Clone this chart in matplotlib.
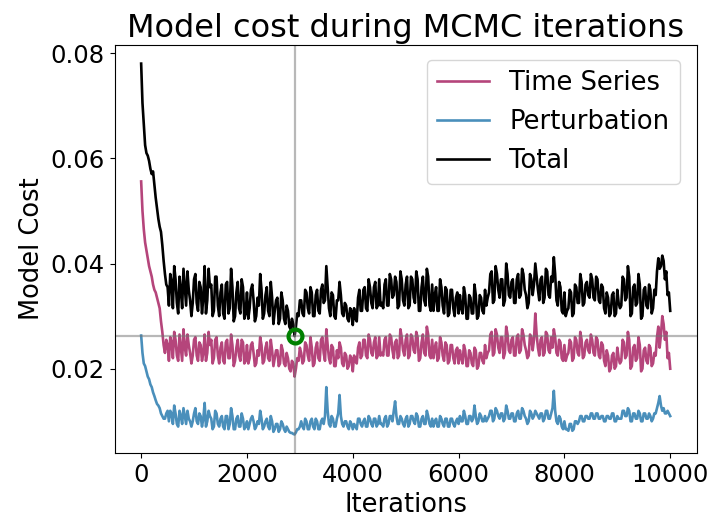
import numpy as np
from matplotlib import pyplot as plt

# iterations sampled every 25 steps (0 .. 10000)
iterations = list(range(0, 10001, 25))

# model cost values, in units of 1e-3
time_series = [
    55.6, 50.0, 46.5, 44.0, 42.5, 41.0, 39.5, 38.5, 37.5, 36.0, 35.0,
    34.5, 33.5, 32.5, 31.5, 29.0, 27.0, 24.5, 23.0, 25.5, 24.5,
    21.5, 26.0, 25.0, 22.0, 27.0, 25.5, 22.5, 21.5, 26.5, 24.0,
    21.5, 27.5, 24.0, 22.5, 26.5, 24.5, 23.0, 21.0, 22.5, 25.5,
    26.0, 22.5, 21.5, 25.0, 24.5, 21.5, 23.0, 26.5, 21.5, 23.0,
    27.0, 24.5, 25.5, 21.0, 22.0, 25.5, 26.0, 22.5, 21.0, 24.0,
    25.0, 21.5, 21.0, 25.0, 25.5, 22.0, 22.0, 26.5, 24.5, 20.5,
    21.5, 24.0, 25.5, 22.5, 21.5, 25.5, 25.0, 21.0, 21.5, 24.5,
    21.0, 22.0, 24.5, 25.0, 23.0, 20.5, 21.0, 23.5, 22.5, 26.0,
    24.5, 21.0, 21.5, 24.0, 25.0, 22.0, 21.5, 25.5, 23.5, 20.5,
    22.0, 23.5, 23.5, 20.5, 21.0, 24.5, 23.5, 21.0, 20.5, 23.0,
    22.0, 20.0, 19.5, 21.5, 21.0, 18.5, 20.0, 22.0, 21.5, 24.0,
    23.0, 21.0, 21.5, 25.0, 24.5, 22.5, 21.5, 26.0, 24.0, 20.5,
    21.0, 24.0, 25.0, 22.0, 21.5, 25.5, 26.0, 23.0, 21.5, 27.5,
    24.5, 22.0, 21.0, 24.5, 24.0, 20.5, 20.5, 23.5, 22.0, 25.0,
    24.0, 21.0, 20.5, 23.0, 22.5, 20.0, 20.5, 22.5, 22.0, 19.5,
    22.5, 21.5, 21.0, 24.0, 25.0, 22.0, 22.5, 25.5, 25.5, 22.5,
    22.0, 26.5, 25.5, 23.0, 22.5, 25.0, 26.0, 22.0, 22.5, 26.0,
    22.5, 23.0, 22.5, 25.5, 26.0, 22.5, 22.5, 26.5, 26.0, 23.5,
    22.0, 25.0, 25.5, 22.0, 22.5, 27.5, 26.0, 23.5, 22.5, 25.5,
    26.5, 22.0, 22.5, 26.5, 26.0, 23.5, 23.0, 27.0, 26.0, 21.5,
    22.0, 25.0, 26.5, 23.0, 22.5, 28.0, 26.5, 22.5, 22.0, 25.5,
    22.0, 24.0, 25.0, 21.5, 22.0, 26.0, 25.0, 22.5, 21.5, 25.0,
    24.5, 21.0, 21.5, 24.5, 24.5, 22.0, 21.0, 23.5, 24.0, 21.0,
    23.5, 22.0, 21.0, 24.5, 23.5, 20.5, 20.5, 23.5, 23.0, 21.0,
    20.5, 24.0, 23.5, 20.0, 20.5, 23.0, 23.0, 21.5, 21.0, 24.5,
    22.0, 23.0, 23.5, 26.5, 27.0, 22.5, 23.0, 27.5, 26.5, 24.0,
    23.0, 26.0, 26.0, 22.0, 23.0, 28.0, 26.5, 23.5, 23.0, 25.5,
    26.0, 22.5, 22.5, 26.0, 26.5, 23.0, 23.5, 27.5, 26.5, 24.5,
    23.5, 22.0, 22.5, 26.5, 26.0, 23.5, 25.5, 30.5, 26.5, 24.0,
    22.5, 25.5, 26.0, 22.5, 23.0, 27.0, 26.5, 23.5, 23.0, 26.0,
    24.0, 27.5, 26.0, 23.0, 22.5, 25.5, 25.0, 22.0, 21.5, 24.5,
    21.5, 22.5, 23.0, 25.5, 25.0, 21.5, 22.0, 26.0, 25.5, 23.0,
    22.5, 27.0, 25.5, 22.0, 22.5, 25.0, 25.5, 23.5, 23.0, 26.5,
    25.5, 23.0, 22.5, 26.0, 25.5, 22.5, 22.0, 25.0, 24.5, 21.5,
    20.5, 23.5, 22.5, 19.5, 20.0, 22.5, 23.0, 20.0, 20.5, 24.0,
    22.0, 21.0, 21.5, 25.5, 25.0, 22.0, 22.5, 27.0, 25.5, 20.0,
    20.5, 24.0, 24.5, 21.5, 22.0, 26.0, 24.5, 19.5, 20.0, 23.5,
    24.0, 21.5, 21.0, 24.5, 24.0, 20.5, 21.0, 23.0, 22.5, 26.0,
    28.0, 24.0, 26.5, 30.0, 28.5, 25.5, 27.0, 22.0, 23.0, 20.0,
]

perturbation = [
    26.3, 23.0, 21.0, 20.5, 19.5, 18.5, 18.0, 17.0, 16.5, 15.5, 14.8,
    14.0, 13.3, 13.0, 12.5, 11.5, 11.0, 10.5, 10.5, 11.5, 12.0,
    10.0, 12.0, 11.5, 9.5, 13.0, 11.5, 9.5, 9.0, 12.0, 11.0,
    9.5, 12.5, 11.0, 9.5, 12.0, 10.5, 10.0, 9.0, 10.0, 11.5,
    12.5, 10.0, 9.5, 11.5, 11.0, 9.0, 10.5, 13.5, 9.0, 10.0,
    12.0, 11.0, 10.5, 8.5, 9.0, 12.0, 11.5, 9.5, 9.0, 10.5,
    11.0, 9.0, 8.5, 11.0, 11.0, 8.5, 9.5, 12.5, 11.0, 8.5,
    8.5, 10.5, 11.0, 9.0, 9.0, 11.5, 10.5, 8.5, 9.0, 10.0,
    8.5, 9.5, 10.5, 11.0, 10.0, 8.5, 9.0, 10.0, 9.5, 12.0,
    10.5, 8.5, 9.0, 10.0, 10.5, 9.0, 8.5, 11.0, 10.0, 8.0,
    8.5, 9.5, 9.5, 8.0, 8.5, 10.0, 9.5, 8.5, 8.0, 9.0,
    8.5, 8.0, 7.8, 7.8, 7.6, 7.5, 7.9, 8.5, 8.5, 9.0,
    10.0, 9.0, 8.5, 10.5, 10.0, 8.5, 8.5, 10.0, 10.5, 9.0,
    8.5, 10.5, 10.0, 8.5, 8.5, 10.0, 10.5, 9.5, 11.0, 16.5,
    12.0, 9.5, 9.0, 11.0, 10.5, 9.0, 9.0, 10.5, 11.5, 15.0,
    11.0, 9.5, 9.0, 10.0, 10.0, 9.0, 8.5, 10.0, 9.5, 8.5,
    9.5, 9.0, 8.5, 10.5, 10.5, 9.5, 9.0, 10.0, 10.5, 9.0,
    9.0, 11.0, 10.5, 9.5, 9.0, 10.5, 10.5, 9.0, 9.5, 11.0,
    9.5, 9.5, 9.0, 10.5, 11.0, 9.0, 9.5, 11.0, 11.0, 10.0,
    12.0, 13.8, 11.0, 9.5, 9.5, 11.0, 10.5, 9.5, 9.0, 10.5,
    11.0, 9.0, 9.5, 11.0, 11.0, 10.0, 9.5, 11.5, 11.0, 9.0,
    9.0, 10.5, 11.0, 9.5, 9.5, 12.0, 11.0, 9.5, 9.0, 10.5,
    9.0, 10.0, 10.5, 9.0, 9.0, 11.0, 10.5, 9.5, 9.0, 10.5,
    10.5, 9.0, 9.0, 10.5, 10.5, 9.5, 9.0, 10.0, 10.5, 9.5,
    11.0, 10.0, 10.0, 12.0, 11.0, 9.5, 9.5, 11.0, 11.0, 10.0,
    10.5, 13.0, 11.0, 9.5, 10.0, 11.5, 11.0, 10.0, 10.0, 11.0,
    10.0, 10.5, 11.0, 12.0, 12.0, 10.0, 10.5, 12.5, 12.0, 11.0,
    10.5, 11.5, 11.5, 10.0, 10.5, 13.0, 12.0, 10.5, 10.5, 11.5,
    11.5, 10.0, 10.0, 11.5, 12.0, 10.5, 10.5, 12.5, 12.0, 11.0,
    10.5, 9.5, 10.0, 12.0, 11.5, 10.5, 11.0, 12.0, 11.5, 11.0,
    10.5, 11.5, 11.5, 10.0, 10.5, 12.0, 12.0, 10.5, 10.5, 11.5,
    12.5, 15.8, 12.0, 10.0, 9.5, 11.0, 10.5, 9.0, 8.5, 10.0,
    8.5, 8.5, 8.2, 9.5, 9.5, 8.2, 8.5, 10.0, 10.0, 9.5,
    10.0, 11.0, 11.0, 10.0, 10.0, 11.0, 11.0, 10.5, 10.5, 11.5,
    11.5, 10.5, 10.5, 11.5, 11.5, 10.5, 10.5, 11.0, 11.0, 10.0,
    10.0, 11.0, 11.0, 10.5, 10.5, 11.5, 11.5, 10.0, 10.0, 11.0,
    10.5, 10.5, 10.5, 12.0, 12.0, 11.0, 11.0, 12.5, 12.0, 10.0,
    10.0, 11.5, 11.5, 10.5, 10.5, 12.0, 11.5, 10.0, 10.0, 11.5,
    11.5, 10.5, 10.5, 11.5, 11.0, 10.0, 10.5, 11.5, 11.5, 12.5,
    13.5, 14.8, 13.0, 12.0, 12.5, 11.5, 11.5, 12.0, 11.5, 11.0,
]

total = [
    78.0, 70.5, 66.5, 62.5, 61.0, 60.5, 59.5, 58.0, 57.0, 57.5, 55.0,
    52.5, 50.5, 48.5, 47.0, 46.0, 43.5, 40.5, 38.0, 36.0, 35.5,
    32.0, 38.0, 36.5, 31.5, 39.5, 37.0, 32.5, 30.5, 37.5, 35.0,
    31.5, 39.0, 35.5, 32.0, 38.5, 35.0, 33.0, 30.0, 32.5, 37.0,
    38.0, 32.5, 31.0, 36.5, 35.5, 30.5, 33.5, 39.5, 30.5, 33.0,
    39.0, 35.5, 36.0, 30.0, 31.0, 37.5, 37.5, 32.0, 30.0, 34.5,
    36.0, 30.5, 29.5, 36.0, 36.5, 30.5, 31.5, 39.0, 35.5, 29.0,
    30.0, 34.5, 36.5, 31.5, 30.5, 37.0, 35.5, 29.5, 30.5, 34.5,
    29.5, 31.5, 35.0, 36.0, 33.0, 29.0, 30.0, 33.5, 32.0, 38.0,
    35.0, 29.5, 30.5, 34.0, 35.5, 31.0, 30.0, 36.5, 33.5, 28.5,
    31.0, 33.0, 33.5, 28.5, 29.5, 34.5, 33.0, 29.5, 28.5, 32.0,
    31.0, 28.0, 27.5, 29.5, 28.5, 26.2, 28.0, 30.5, 30.0, 33.0,
    33.0, 30.5, 30.0, 35.0, 34.5, 31.5, 30.5, 35.5, 34.5, 30.0,
    30.0, 34.0, 35.0, 31.0, 30.5, 35.0, 36.0, 32.5, 33.0, 39.5,
    35.5, 31.5, 30.0, 34.5, 34.0, 30.0, 29.5, 33.0, 33.0, 36.5,
    34.0, 30.5, 30.0, 32.5, 32.0, 29.5, 29.0, 31.5, 31.0, 28.3,
    31.5, 29.5, 29.0, 33.5, 35.0, 31.0, 31.0, 35.0, 35.5, 31.5,
    31.0, 37.0, 35.5, 32.5, 31.5, 35.5, 36.5, 31.5, 32.0, 37.0,
    32.0, 32.5, 31.5, 36.0, 37.0, 32.0, 32.0, 38.0, 37.0, 33.5,
    34.0, 37.5, 36.5, 31.5, 32.0, 38.5, 37.0, 33.0, 32.0, 36.0,
    37.5, 31.5, 32.0, 37.5, 37.0, 33.5, 32.5, 38.5, 37.0, 31.0,
    31.0, 35.5, 37.5, 33.0, 32.0, 39.0, 37.5, 32.0, 31.0, 36.0,
    31.0, 34.0, 35.5, 31.0, 31.0, 37.0, 35.5, 32.0, 30.5, 35.5,
    35.0, 30.0, 30.5, 35.0, 35.0, 31.5, 30.0, 33.5, 34.5, 30.5,
    34.0, 31.5, 30.5, 35.5, 34.0, 29.5, 29.5, 34.0, 33.5, 30.5,
    30.5, 36.0, 34.0, 29.5, 30.0, 34.0, 33.5, 31.0, 30.5, 35.0,
    32.0, 33.5, 34.5, 38.0, 38.5, 32.5, 33.0, 39.5, 38.0, 35.0,
    33.5, 37.0, 37.0, 32.0, 33.0, 40.0, 38.0, 34.0, 33.5, 36.5,
    37.0, 32.5, 32.5, 37.0, 38.0, 33.5, 34.0, 39.0, 38.0, 35.0,
    34.0, 31.5, 32.5, 38.0, 37.0, 34.0, 36.0, 40.0, 37.5, 35.0,
    33.0, 37.0, 37.5, 32.5, 33.5, 39.0, 38.5, 34.0, 33.5, 37.5,
    36.5, 41.2, 38.0, 33.0, 32.0, 36.5, 35.5, 31.0, 30.5, 34.5,
    30.0, 31.0, 31.5, 35.0, 34.5, 30.0, 30.5, 36.0, 35.5, 32.5,
    32.5, 38.0, 36.5, 32.0, 32.5, 36.0, 36.5, 34.0, 33.5, 38.0,
    37.0, 33.5, 33.0, 37.5, 37.0, 33.0, 32.5, 36.0, 35.5, 31.5,
    30.5, 34.5, 33.5, 30.0, 30.5, 34.0, 34.5, 30.0, 30.5, 35.0,
    32.5, 31.5, 32.0, 37.5, 37.0, 33.0, 33.5, 39.5, 37.5, 30.0,
    30.5, 35.5, 36.0, 32.0, 32.5, 38.0, 36.0, 29.5, 30.0, 35.0,
    35.5, 32.0, 31.5, 36.0, 35.0, 30.5, 31.5, 35.0, 34.0, 38.5,
    41.0, 39.0, 39.5, 41.5, 40.5, 37.0, 38.5, 34.0, 34.5, 31.0,
]

# best sample marked on the chart
best_iter = 2900
best_cost = 26.2


def main():
    ts = np.array(time_series) / 1000
    pert = np.array(perturbation) / 1000
    tot = np.array(total) / 1000

    fig = plt.figure(figsize=(7.08, 5.21), dpi=100)
    ax = fig.add_axes([0.162, 0.1305, 0.822, 0.783])

    ax.plot(iterations, ts, color="#b5457b", lw=1.9, label="Time Series")
    ax.plot(iterations, pert, color="#4a8fbb", lw=1.9, label="Perturbation")
    ax.plot(iterations, tot, color="black", lw=1.9, label="Total")

    ax.axvline(best_iter, color="0.45", alpha=0.5, lw=1.6)
    ax.axhline(best_cost / 1000, color="0.45", alpha=0.5, lw=1.6)
    ax.plot(best_iter, best_cost / 1000, "o", mfc="none", mec="green",
            mew=3, ms=10)

    ax.set_title("Model cost during MCMC iterations", fontsize=23)
    ax.set_xlabel("Iterations", fontsize=18.5)
    ax.set_ylabel("Model Cost", fontsize=18.5)
    ax.tick_params(labelsize=17.5)
    ax.set_xticks([0, 2000, 4000, 6000, 8000, 10000])
    ax.set_yticks([0.02, 0.04, 0.06, 0.08])
    ax.legend(loc="upper right", fontsize=18.5, borderaxespad=0,
              bbox_to_anchor=(0.960, 0.885), bbox_transform=fig.transFigure)

    fig.savefig("out.png", dpi=100)


if __name__ == '__main__':
    main()
